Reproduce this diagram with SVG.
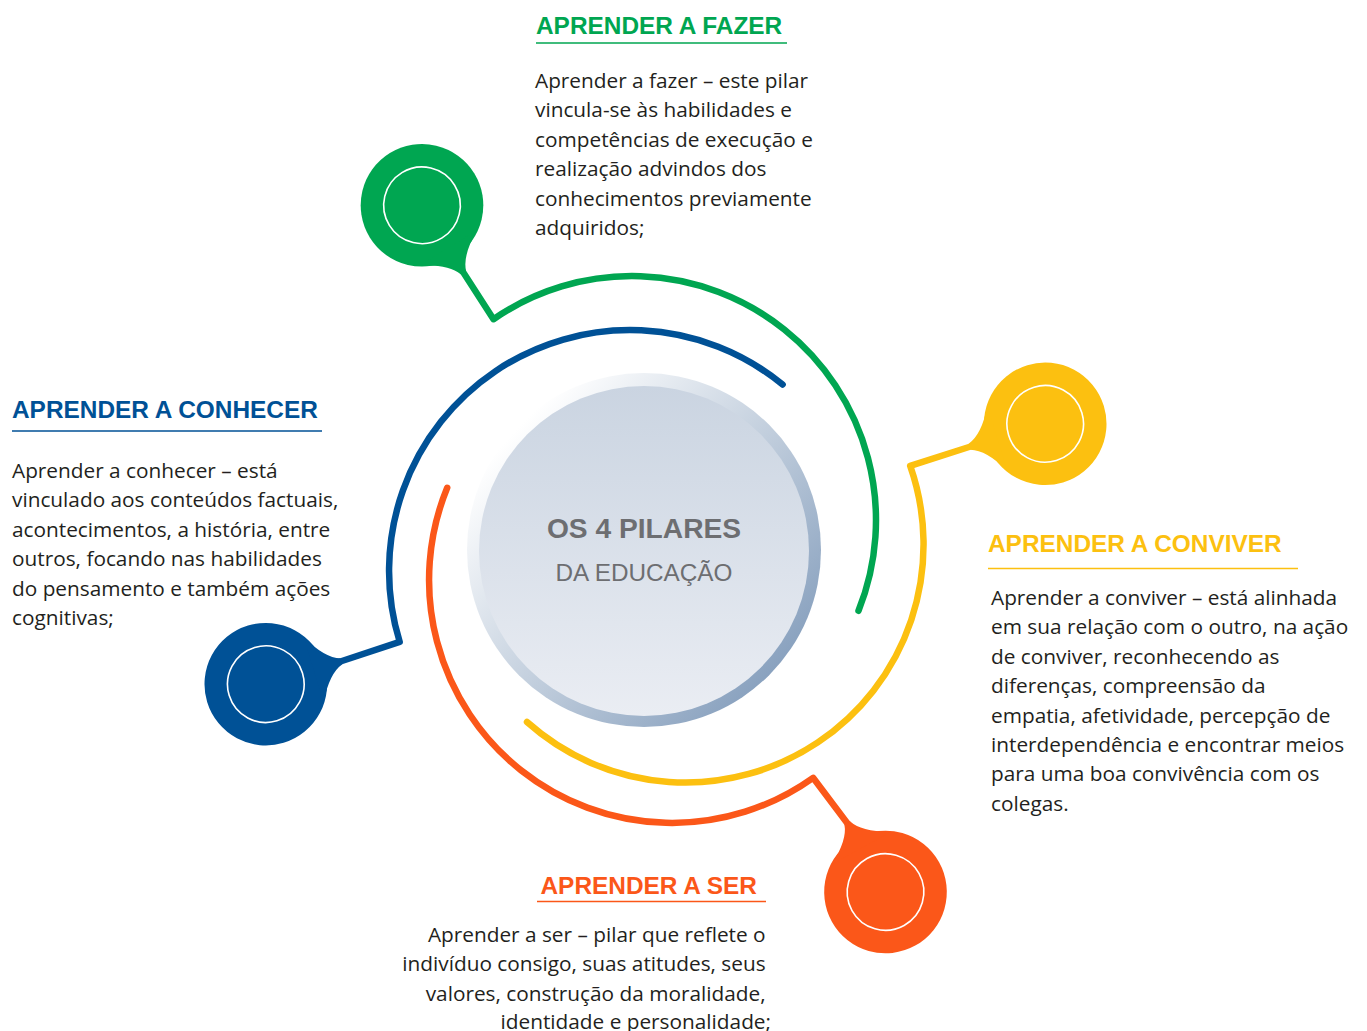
<svg xmlns="http://www.w3.org/2000/svg" xmlns:xlink="http://www.w3.org/1999/xlink" width="1367" height="1031" viewBox="0 0 1367 1031">
<style>
.title{font-family:"Liberation Sans",Arial,sans-serif;font-weight:bold;font-size:24.4px}
.body{font-family:"Open Sans","Noto Sans",sans-serif;font-size:20.8px;fill:#231f20}
.conn{fill:none;stroke-width:6.5;stroke-linecap:round;stroke-linejoin:round}
.ring{fill:none;stroke:#ffffff;stroke-width:1.6}
.rule{stroke-width:1.4}
</style>
<defs>
<linearGradient id="rimGrad" x1="0.15" y1="0.15" x2="0.9" y2="0.85">
<stop offset="0" stop-color="#ffffff"/>
<stop offset="0.45" stop-color="#c9d4e1"/>
<stop offset="1" stop-color="#869fbd"/>
</linearGradient>
<linearGradient id="faceGrad" x1="0" y1="0" x2="0" y2="1">
<stop offset="0" stop-color="#cad4e1"/>
<stop offset="1" stop-color="#eaedf3"/>
</linearGradient>
<path id="tip" d="M50,-34 Q64,-8 79,-3.2 L79,3.2 Q64,8 50,34 Z"/>
</defs>
<rect width="1367" height="1031" fill="#ffffff"/>

<g id="connectors">
<path class="conn" stroke="#00a651" d="M462.9,271.7 L493.5,319.2 A244,244 0 0 1 858.5,610.8"/>
<path class="conn" stroke="#005196" d="M340.4,661.5 L399.7,641.9 A241,241 0 0 1 782.6,384.5"/>
<path class="conn" stroke="#fcc010" d="M970.6,446.5 L910.2,465.9 A238,238 0 0 1 527,722"/>
<path class="conn" stroke="#fb5719" d="M847.7,823.8 L813.1,777.8 A243,243 0 0 1 447.2,487.8"/>
</g>

<g id="center">
<circle cx="644" cy="550" r="177" fill="url(#rimGrad)"/>
<circle cx="644" cy="551" r="165" fill="url(#faceGrad)"/>
<text x="644" y="538" text-anchor="middle" font-family="Liberation Sans, Arial, sans-serif" font-weight="bold" font-size="28.2" fill="#6d6e71">OS 4 PILARES</text>
<text x="644" y="581" text-anchor="middle" font-family="Liberation Sans, Arial, sans-serif" font-size="24.3" fill="#6d6e71">DA EDUCAÇÃO</text>
</g>

<g id="pin-fazer" fill="#00a651" transform="translate(422,205.3) rotate(58.4)">
<circle r="61.3"/>
<use xlink:href="#tip" href="#tip"/>
<circle class="ring" r="38.3"/>
</g>
<g id="pin-conhecer" fill="#005196" transform="translate(265.8,684.2) rotate(-16.9)">
<circle r="61.3"/>
<use xlink:href="#tip" href="#tip"/>
<circle class="ring" r="38.3"/>
</g>
<g id="pin-conviver" fill="#fcc010" transform="translate(1045.2,423.8) rotate(163.1)">
<circle r="61.3"/>
<use xlink:href="#tip" href="#tip"/>
<circle class="ring" r="38.3"/>
</g>
<g id="pin-ser" fill="#fb5719" transform="translate(885.5,892) rotate(-119)">
<circle r="61.3"/>
<use xlink:href="#tip" href="#tip"/>
<circle class="ring" r="38.3"/>
</g>

<g id="label-fazer">
<text class="title" x="536" y="34" fill="#00a651">APRENDER A FAZER</text>
<line class="rule" x1="536" y1="43" x2="787" y2="43" stroke="#00a651"/>
<text class="body" x="535" y="88">
<tspan x="535" y="88">Aprender a fazer – este pilar</tspan>
<tspan x="535" y="117.4">vincula-se às habilidades e</tspan>
<tspan x="535" y="146.8">competências de execução e</tspan>
<tspan x="535" y="176.2">realização advindos dos</tspan>
<tspan x="535" y="205.6">conhecimentos previamente</tspan>
<tspan x="535" y="235">adquiridos;</tspan>
</text>
</g>

<g id="label-conhecer">
<text class="title" x="12" y="417.5" fill="#005196">APRENDER A CONHECER</text>
<line class="rule" x1="12" y1="431" x2="322" y2="431" stroke="#005196"/>
<text class="body" x="12" y="478">
<tspan x="12" y="478">Aprender a conhecer – está</tspan>
<tspan x="12" y="507.4">vinculado aos conteúdos factuais,</tspan>
<tspan x="12" y="536.8">acontecimentos, a história, entre</tspan>
<tspan x="12" y="566.2">outros, focando nas habilidades</tspan>
<tspan x="12" y="595.6">do pensamento e também ações</tspan>
<tspan x="12" y="625">cognitivas;</tspan>
</text>
</g>

<g id="label-conviver">
<text class="title" x="988" y="552" fill="#fcc010">APRENDER A CONVIVER</text>
<line class="rule" x1="988" y1="568.5" x2="1298" y2="568.5" stroke="#fcc010"/>
<text class="body" x="991" y="605">
<tspan x="991" y="605">Aprender a conviver – está alinhada</tspan>
<tspan x="991" y="634.4">em sua relação com o outro, na ação</tspan>
<tspan x="991" y="663.8">de conviver, reconhecendo as</tspan>
<tspan x="991" y="693.2">diferenças, compreensão da</tspan>
<tspan x="991" y="722.6">empatia, afetividade, percepção de</tspan>
<tspan x="991" y="752">interdependência e encontrar meios</tspan>
<tspan x="991" y="781.4">para uma boa convivência com os</tspan>
<tspan x="991" y="810.8">colegas.</tspan>
</text>
</g>

<g id="label-ser">
<text class="title" x="540.5" y="894" fill="#fb5719">APRENDER A SER</text>
<line class="rule" x1="537" y1="901.5" x2="766" y2="901.5" stroke="#fb5719"/>
<text class="body" x="771" y="941.7" text-anchor="end">
<tspan x="771" y="941.7">Aprender a ser – pilar que reflete o</tspan>
<tspan x="771" y="971.1">indivíduo consigo, suas atitudes, seus</tspan>
<tspan x="771" y="1000.5">valores, construção da moralidade,</tspan>
<tspan x="771" y="1028.5">identidade e personalidade;</tspan>
</text>
</g>
</svg>
